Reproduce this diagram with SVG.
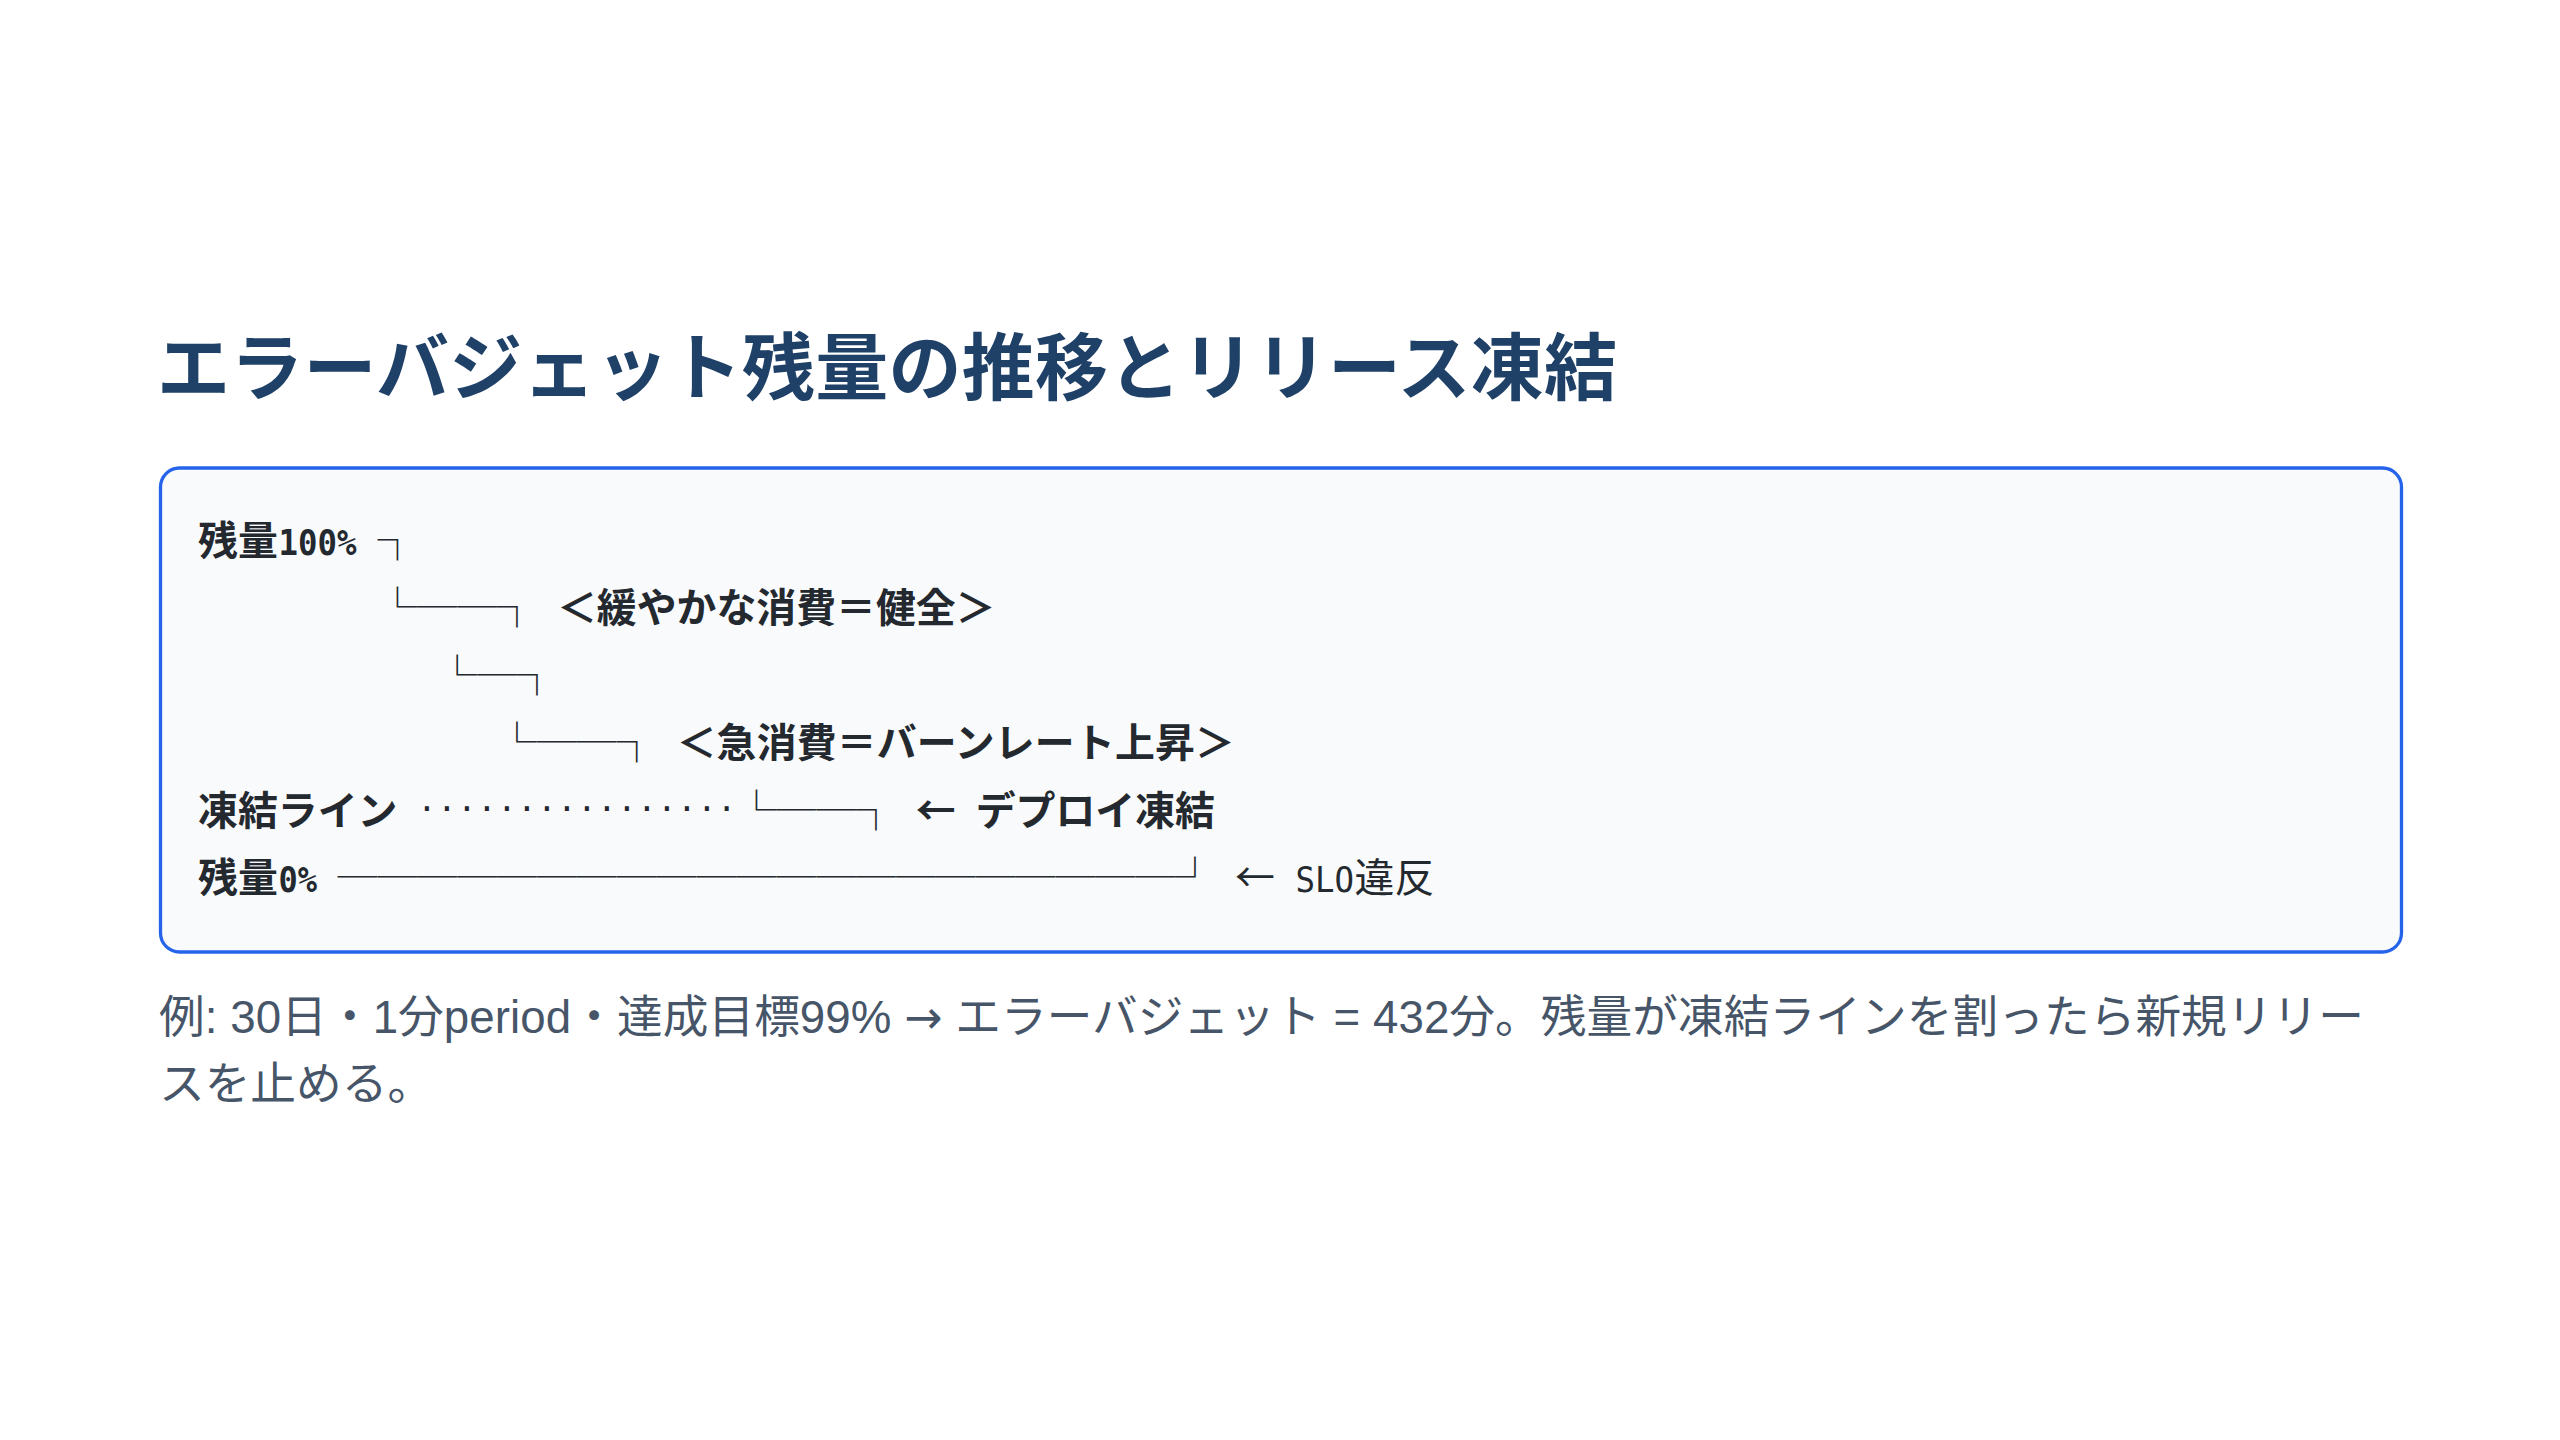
<svg xmlns="http://www.w3.org/2000/svg" width="2560" height="1440" viewBox="0 0 2560 1440">
<style>
.t{font-family:"Noto Sans CJK JP",sans-serif;font-weight:700;font-size:73px;fill:#1f4168}
.cj{font-family:"Noto Sans CJK JP",sans-serif;font-weight:700;font-size:39.88px;fill:#24292f}
.cjr{font-family:"Noto Sans CJK JP",sans-serif;font-weight:400;font-size:39.88px;fill:#24292f}
.lm{font-family:"DejaVu Sans Mono",monospace;font-size:36px;fill:#24292f}
.lmb{font-family:"DejaVu Sans Mono",monospace;font-size:36px;font-weight:700;fill:#24292f}
.dots{font-family:"DejaVu Sans Mono",monospace;font-size:32px;fill:#24292f}
.bx{font-family:"Noto Sans CJK JP",sans-serif;font-weight:400;font-size:39.88px;fill:#24292f}
.cap{font-family:"Liberation Sans","Noto Sans CJK JP",sans-serif;font-size:45.7px;fill:#475569}
.arr{font-family:"DejaVu Sans",sans-serif}
.panel{fill:#f8fafc;stroke:#2563eb;stroke-width:3.3}
</style>
<rect x="0" y="0" width="2560" height="1440" fill="#ffffff"/>
<g id="title">
<text class="t" x="157" y="394" textLength="1460" lengthAdjust="spacing">エラーバジェット残量の推移とリリース凍結</text>
</g>
<g id="panel">
<rect class="panel" x="160.5" y="468" width="2241" height="484" rx="19" ry="19"/>
</g>
<g id="labels">
<g id="row-100">
<text class="cj" x="198" y="555">残量</text>
<text class="lmb" x="278.5" y="555" textLength="78" lengthAdjust="spacingAndGlyphs">100%</text>
</g>
<g id="label-healthy">
<text class="cj" x="556.92" y="622.4" textLength="438.68" lengthAdjust="spacing">＜緩やかな消費＝健全＞</text>
</g>
<g id="label-burn">
<text class="cj" x="676.56" y="757.2" textLength="558.32" lengthAdjust="spacing">＜急消費＝バーンレート上昇＞</text>
</g>
<g id="row-freeze">
<text class="cj" x="198" y="824.6" textLength="199.4" lengthAdjust="spacing">凍結ライン</text>
<text class="cj" x="915.84" y="824.6" textLength="39.88" lengthAdjust="spacingAndGlyphs">←</text>
<text class="cj" x="975.66" y="824.6" textLength="239.28" lengthAdjust="spacing">デプロイ凍結</text>
</g>
<g id="row-0">
<text class="cj" x="198" y="892">残量</text>
<text class="lmb" x="278.5" y="892" textLength="38.5" lengthAdjust="spacingAndGlyphs">0%</text>
<text class="cjr" x="1234.88" y="892" textLength="39.88" lengthAdjust="spacingAndGlyphs">←</text>
<text class="lm" x="1295.5" y="892" textLength="58.5" lengthAdjust="spacingAndGlyphs">SLO</text>
<text class="cjr" x="1354.52" y="892" textLength="79.76" lengthAdjust="spacing">違反</text>
</g>
</g>
<g id="connectors">
<text class="bx" x="377.46" y="555" textLength="39.88" lengthAdjust="spacingAndGlyphs">┐</text>
<text class="bx" x="377.46" y="622.4" textLength="159.52" lengthAdjust="spacingAndGlyphs">└──┐</text>
<text class="bx" x="437.28" y="689.8" textLength="119.64" lengthAdjust="spacingAndGlyphs">└─┐</text>
<text class="bx" x="497.1" y="757.2" textLength="159.52" lengthAdjust="spacingAndGlyphs">└──┐</text>
<text class="dots" x="417.34" y="819.5" textLength="319.04" lengthAdjust="spacing">················</text>
<text class="bx" x="736.38" y="824.6" textLength="159.52" lengthAdjust="spacingAndGlyphs">└──┐</text>
<text class="bx" x="337.58" y="892" textLength="877.36" lengthAdjust="spacingAndGlyphs">─────────────────────┘</text>
</g>
<g id="caption">
<text class="cap" x="159" y="1033" textLength="2205" lengthAdjust="spacing">例: 30日・1分period・達成目標99% <tspan class="arr">→</tspan> エラーバジェット = 432分。残量が凍結ラインを割ったら新規リリー</text>
<text class="cap" x="159" y="1100">スを止める。</text>
</g>
</svg>
